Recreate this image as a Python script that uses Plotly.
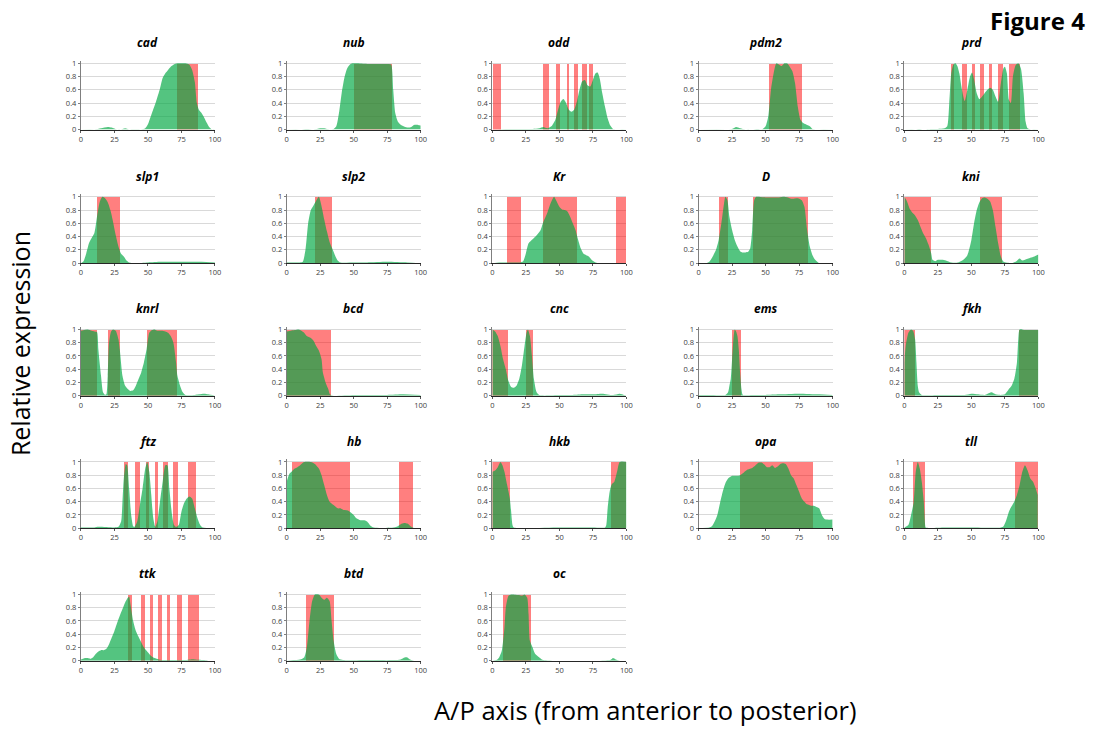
import plotly.graph_objects as go

W, H = 1097, 732

genes = ["cad", "nub", "odd", "pdm2", "prd",
         "slp1", "slp2", "Kr", "D", "kni",
         "knrl", "bcd", "cnc", "ems", "fkh",
         "ftz", "hb", "hkb", "opa", "tll",
         "ttk", "btd", "oc"]

x_ticks = [0, 25, 50, 75, 100]
y_ticks = [0, 0.2, 0.4, 0.6, 0.8, 1]
y_tick_labels = ["0", "0.2", "0.4", "0.6", "0.8", "1"]

# ---- expression curves (A/P position, relative expression) and ON domains ----
cad_x = [0, 10, 15, 20, 23, 27, 30, 33, 36, 45, 48, 50, 53, 56, 59, 61, 63, 65, 67, 69, 72, 75, 78, 81, 83, 85, 86.5, 88, 90, 92, 94, 96, 98, 100]
cad_y = [0, 0, 0.02, 0.04, 0.03, 0, 0, 0.02, 0, 0, 0.02, 0.08, 0.25, 0.42, 0.62, 0.78, 0.85, 0.9, 0.95, 0.98, 1, 1, 1, 0.98, 0.9, 0.72, 0.4, 0.3, 0.25, 0.18, 0.1, 0.03, 0, 0]
cad_on = [(72, 87)]

nub_x = [0, 10, 15, 20, 25, 28, 32, 35, 37, 39, 41, 43, 45, 47, 49, 52, 60, 70, 76, 78, 79.5, 81, 83, 86, 90, 93, 95, 98, 100]
nub_y = [0, 0, 0.01, 0, 0.02, 0.02, 0, 0.01, 0.05, 0.25, 0.55, 0.78, 0.92, 0.98, 1, 1, 0.99, 0.99, 0.99, 0.98, 0.6, 0.25, 0.12, 0.06, 0.03, 0.04, 0.07, 0.07, 0.06]
nub_on = [(50, 78.4)]

odd_x = [0, 10, 20, 30, 35, 38, 41, 44, 47, 49, 51, 53, 55, 57, 59, 61, 63, 65, 67, 69, 71, 73, 75, 77, 78.5, 80, 82, 84, 86, 88, 90, 95, 100]
odd_y = [0, 0.01, 0.01, 0.01, 0.02, 0.04, 0.02, 0.05, 0.15, 0.3, 0.42, 0.46, 0.4, 0.3, 0.27, 0.3, 0.42, 0.6, 0.73, 0.75, 0.67, 0.65, 0.75, 0.85, 0.86, 0.78, 0.55, 0.35, 0.17, 0.06, 0.01, 0, 0]
odd_on = [(1, 7), (38.4, 42.7), (47.4, 50.7), (55.6, 57.8), (61.4, 63.8), (67.4, 70.7), (72.6, 75.6)]

pdm2_x = [0, 20, 25, 28, 31, 35, 40, 44, 47, 50, 52, 54, 56, 58, 60, 62, 64, 66, 68, 70, 72, 74, 76, 78, 80, 83, 85, 90, 100]
pdm2_y = [0, 0, 0.01, 0.04, 0.02, 0, 0, 0.01, 0, 0.05, 0.2, 0.6, 0.85, 1, 0.98, 0.96, 1, 1, 0.95, 0.88, 0.7, 0.35, 0.15, 0.1, 0.08, 0.05, 0.01, 0, 0]
pdm2_on = [(52.2, 76.6)]

prd_x = [0, 8, 11, 14, 20, 25, 30, 32, 33.5, 35, 36.5, 38, 39.5, 41, 43, 45, 47, 49, 50.5, 52, 54, 56, 58, 61, 64, 66, 68, 70, 72, 74, 75, 76.5, 78, 79.5, 81, 83, 85, 87, 89, 90.5, 92, 95, 100]
prd_y = [0, 0, 0.01, 0, 0.01, 0.01, 0.02, 0.05, 0.4, 0.85, 0.98, 1, 0.96, 0.85, 0.6, 0.43, 0.6, 0.8, 0.86, 0.76, 0.55, 0.46, 0.5, 0.58, 0.63, 0.6, 0.5, 0.42, 0.7, 0.93, 0.95, 0.85, 0.45, 0.4, 0.8, 0.97, 1, 0.92, 0.55, 0.12, 0.02, 0, 0]
prd_on = [(34.9, 37.3), (43.5, 46.7), (50.4, 52.8), (56.5, 59.5), (63.1, 65.4), (70.5, 74.2), (78.4, 86.5)]

slp1_x = [0, 2, 4, 6, 8, 10, 12, 14, 16, 18, 20, 22, 24, 26, 28, 30, 32, 34, 36, 40, 50, 60, 75, 90, 100]
slp1_y = [0, 0.03, 0.15, 0.3, 0.38, 0.45, 0.7, 0.92, 1, 0.98, 0.92, 0.8, 0.62, 0.42, 0.25, 0.14, 0.1, 0.04, 0.01, 0, 0.01, 0.02, 0.02, 0.02, 0.01]
slp1_on = [(11.8, 28.8)]

slp2_x = [0, 5, 10, 12, 14, 16, 18, 20, 22, 24, 26, 28, 30, 32, 34, 36, 38, 40, 50, 60, 75, 90, 100]
slp2_y = [0.01, 0.01, 0.01, 0.02, 0.2, 0.6, 0.8, 0.87, 0.94, 1, 0.86, 0.66, 0.48, 0.32, 0.22, 0.12, 0.04, 0.01, 0.01, 0.01, 0.02, 0.01, 0]
slp2_on = [(20.8, 33.7)]

Kr_x = [0, 5, 10, 20, 23, 25, 27, 30, 33, 36, 38, 41, 43, 45, 46, 48, 50, 52, 54, 56, 58, 60, 62, 64, 66, 68, 70, 72, 74, 77, 80, 90, 100]
Kr_y = [0, 0.01, 0.01, 0.01, 0.03, 0.15, 0.3, 0.36, 0.42, 0.5, 0.62, 0.76, 0.88, 0.97, 1, 0.93, 0.85, 0.81, 0.8, 0.78, 0.7, 0.6, 0.5, 0.35, 0.22, 0.14, 0.12, 0.1, 0.05, 0.01, 0, 0, 0]
Kr_on = [(11, 21.9), (37.8, 63.3), (92.6, 100)]

D_x = [0, 6, 8, 10, 13, 15, 17, 19, 20, 21.5, 23, 25, 27, 29, 31, 33, 35, 37, 38.5, 40, 41.5, 43, 50, 60, 64, 68, 70, 74, 77, 79, 81, 83, 85, 87, 90, 100]
D_y = [0, 0, 0.02, 0.08, 0.2, 0.35, 0.6, 0.9, 1, 0.95, 0.7, 0.5, 0.35, 0.25, 0.18, 0.16, 0.16, 0.17, 0.22, 0.5, 0.95, 1, 0.99, 0.99, 1, 0.98, 0.97, 0.98, 0.95, 0.85, 0.5, 0.25, 0.12, 0.05, 0, 0]
D_on = [(14.9, 21.6), (40.4, 81.1)]

kni_x = [0, 2, 4, 6, 8, 10, 12, 14, 16, 18, 20, 21, 23, 25, 28, 31, 35, 40, 44, 47, 50, 52, 54, 56, 58, 60, 62, 64, 66, 68, 70, 72, 74, 80, 83, 86, 88, 90, 94, 97, 100]
kni_y = [1, 0.93, 0.82, 0.76, 0.72, 0.65, 0.55, 0.45, 0.38, 0.28, 0.15, 0.05, 0.03, 0.05, 0.05, 0.04, 0.01, 0.01, 0.05, 0.12, 0.35, 0.6, 0.8, 0.92, 0.98, 0.99, 0.97, 0.93, 0.8, 0.55, 0.3, 0.1, 0.02, 0, 0.02, 0.07, 0.04, 0.05, 0.08, 0.1, 0.13]
kni_on = [(0, 20.2), (56.9, 72.8)]

knrl_x = [0, 5, 8, 10, 12, 13, 15, 16.5, 18, 19, 20, 21, 22.5, 24, 26, 28, 29, 31, 33, 35, 37, 39, 41, 43, 45, 47, 49, 51, 53, 55, 57, 60, 63, 65, 67, 69, 71, 72, 74, 76, 78, 85, 88, 92, 95, 100]
knrl_y = [0.98, 1, 0.98, 0.97, 0.96, 0.7, 0.3, 0.05, 0.01, 0.02, 0.3, 0.8, 0.97, 1, 0.98, 0.85, 0.7, 0.3, 0.15, 0.1, 0.07, 0.08, 0.15, 0.25, 0.35, 0.5, 0.7, 0.95, 0.99, 1, 0.98, 0.98, 0.97, 0.95, 0.9, 0.8, 0.5, 0.3, 0.15, 0.05, 0.01, 0.01, 0.02, 0.03, 0.02, 0]
knrl_on = [(0, 11.8), (20, 28.8), (49.3, 71.5)]

bcd_x = [0, 3, 6, 9, 11, 13, 15, 18, 20, 22, 24, 26, 27, 29, 31, 32, 33, 35, 50, 60, 75, 87, 100]
bcd_y = [0.97, 0.98, 0.99, 1, 0.98, 0.95, 0.9, 0.87, 0.83, 0.75, 0.68, 0.55, 0.35, 0.2, 0.1, 0.03, 0.01, 0, 0.01, 0.01, 0.01, 0.02, 0.01]
bcd_on = [(0, 33.2)]

cnc_x = [0, 2, 4, 6, 8, 10, 12, 14, 16, 18, 20, 22, 24, 25.5, 26.5, 28, 29.5, 31, 33, 35, 50, 60, 68, 75, 82, 90, 95, 100]
cnc_y = [1, 0.97, 0.9, 0.75, 0.55, 0.4, 0.22, 0.13, 0.12, 0.15, 0.25, 0.45, 0.75, 0.95, 1, 0.9, 0.6, 0.25, 0.05, 0.01, 0.01, 0.01, 0.02, 0.02, 0.03, 0.01, 0.03, 0]
cnc_on = [(0, 12.3), (25.5, 30.4)]

ems_x = [0, 10, 20, 22, 23, 24, 25, 26, 27, 28, 29, 30, 31, 32, 33, 40, 50, 60, 75, 90, 100]
ems_y = [0.01, 0.01, 0.01, 0.05, 0.15, 0.25, 0.55, 0.85, 1, 0.97, 0.9, 0.7, 0.35, 0.1, 0.01, 0.01, 0.01, 0.02, 0.03, 0.02, 0.01]
ems_on = [(24.3, 31.5)]

fkh_x = [0, 1, 3, 5, 6.5, 8, 9, 10, 11, 13, 25, 40, 45, 50, 55, 60, 65, 68, 72, 75, 78, 80, 82, 84, 85, 86, 90, 95, 100]
fkh_y = [0.5, 0.75, 0.95, 1, 0.98, 0.85, 0.5, 0.15, 0.05, 0.01, 0.01, 0.01, 0.01, 0.03, 0.02, 0.01, 0.05, 0.02, 0.01, 0.02, 0.1, 0.15, 0.25, 0.5, 0.85, 1, 0.99, 0.99, 0.99]
fkh_on = [(0, 8), (85.8, 100)]

ftz_x = [0, 10, 13, 25, 28, 30, 31, 32, 33.5, 34.5, 36, 37.5, 39, 40, 42, 44, 46, 48, 49.5, 51, 52.5, 54, 55.5, 57, 59, 61, 63, 64.5, 66, 68, 69.5, 71, 73, 75, 77, 79, 81, 83, 85, 87, 89, 91, 100]
ftz_y = [0.01, 0.01, 0.02, 0.01, 0.02, 0.1, 0.4, 0.75, 0.97, 0.95, 0.6, 0.2, 0.03, 0.02, 0.1, 0.35, 0.6, 0.9, 1, 0.85, 0.5, 0.15, 0.02, 0.1, 0.4, 0.7, 0.95, 0.95, 0.6, 0.2, 0.05, 0.02, 0.05, 0.25, 0.38, 0.45, 0.48, 0.45, 0.3, 0.15, 0.05, 0.01, 0]
ftz_on = [(32.3, 35.1), (40.5, 43.8), (48.2, 50.7), (55.3, 57.5), (61.4, 64.7), (69, 72.3), (79.5, 85.8)]

hb_x = [0, 2, 4, 6, 8, 10, 13, 18, 21, 24, 26, 28, 30, 32, 35, 38, 40, 42, 45, 47, 50, 52, 55, 58, 60, 62, 65, 80, 83, 86, 88, 90, 93, 95, 100]
hb_y = [0.7, 0.82, 0.86, 0.9, 0.92, 0.95, 1, 1, 0.97, 0.9, 0.8, 0.65, 0.5, 0.4, 0.35, 0.3, 0.3, 0.28, 0.27, 0.25, 0.2, 0.15, 0.12, 0.12, 0.1, 0.05, 0.01, 0.01, 0.03, 0.07, 0.08, 0.07, 0.02, 0, 0]
hb_on = [(4.1, 46.8), (83.6, 94)]

hkb_x = [0, 2, 4, 6, 7.5, 9, 11, 13, 14, 15, 16, 50, 75, 84, 85, 86, 87.5, 89, 91, 93, 95, 100]
hkb_y = [0.85, 0.87, 0.92, 1, 0.95, 0.85, 0.65, 0.45, 0.25, 0.05, 0.01, 0.01, 0.01, 0.01, 0.05, 0.3, 0.55, 0.66, 0.7, 0.85, 1, 1]
hkb_on = [(0, 13.7), (89, 100)]

opa_x = [0, 8, 10, 12, 14, 16, 18, 20, 22, 25, 28, 31, 33, 36, 39, 42, 45, 47, 49, 51, 53, 55, 57, 59, 61, 63, 65, 67, 69, 71, 73, 75, 77, 79, 81, 84, 86, 88, 90, 92, 94, 96, 100]
opa_y = [0, 0.01, 0.03, 0.1, 0.2, 0.38, 0.55, 0.68, 0.75, 0.79, 0.79, 0.8, 0.83, 0.88, 0.9, 0.94, 0.99, 0.99, 0.96, 0.92, 0.92, 0.95, 0.91, 0.93, 0.97, 0.98, 0.97, 0.9, 0.8, 0.75, 0.65, 0.55, 0.45, 0.4, 0.36, 0.34, 0.34, 0.32, 0.3, 0.2, 0.14, 0.13, 0.13]
opa_on = [(30.9, 85.2)]

tll_x = [0, 3, 5, 7, 8.5, 10, 11.5, 13, 14.5, 15.5, 16, 30, 50, 72, 74, 76, 78, 80, 82, 84, 86, 88, 90, 92, 94, 96, 98, 99.5]
tll_y = [0.01, 0.05, 0.2, 0.4, 0.85, 1, 0.9, 0.7, 0.4, 0.05, 0.01, 0.01, 0.01, 0.01, 0.03, 0.12, 0.25, 0.33, 0.4, 0.5, 0.65, 0.85, 0.95, 0.87, 0.75, 0.7, 0.6, 0.5]
tll_on = [(6.9, 15.3), (82.8, 100)]

ttk_x = [0, 3, 5, 7, 9, 11, 13, 15, 17, 19, 21, 23, 25, 27, 29, 31, 33, 35, 36, 37, 39, 41, 43, 45, 47, 49, 52, 55, 58, 62, 70, 78, 82, 85, 88, 92, 95, 100]
ttk_y = [0.02, 0.04, 0.04, 0.03, 0.05, 0.1, 0.14, 0.16, 0.16, 0.18, 0.25, 0.35, 0.45, 0.57, 0.68, 0.78, 0.88, 0.95, 0.97, 0.85, 0.6, 0.45, 0.36, 0.28, 0.2, 0.15, 0.08, 0.04, 0.02, 0.01, 0.01, 0.01, 0.02, 0.02, 0.015, 0.01, 0, 0]
ttk_on = [(35, 37.8), (44.4, 47.4), (51.5, 53.7), (57.5, 60.5), (64.4, 66.6), (71.8, 75.6), (79.5, 88)]

btd_x = [0, 5, 10, 13, 15, 17, 19, 21, 24, 26, 28, 30, 32, 33.5, 35, 37, 39, 42, 60, 80, 85, 88, 90, 92, 95, 100]
btd_y = [0, 0.01, 0.02, 0.05, 0.2, 0.6, 0.9, 1, 1, 0.95, 0.92, 0.95, 0.9, 0.6, 0.3, 0.1, 0.03, 0.01, 0.01, 0.01, 0.02, 0.05, 0.05, 0.02, 0, 0]
btd_on = [(14.5, 35.3)]

oc_x = [0, 3, 5, 7, 9, 10, 12, 14, 20, 22, 24, 26, 27, 28, 30, 32, 35, 38, 60, 88, 90, 92, 95, 100]
oc_y = [0, 0.01, 0.05, 0.15, 0.5, 0.8, 0.98, 1, 0.99, 0.98, 1, 0.95, 0.7, 0.3, 0.2, 0.1, 0.05, 0.01, 0, 0.01, 0.04, 0.02, 0, 0]
oc_on = [(8.2, 28.8)]

curves = {g: (globals()[g + "_x"], globals()[g + "_y"], globals()[g + "_on"]) for g in genes}

# ---- layout geometry (pixels) ----
col_left = [79.5, 286.8, 494.0, 701.7, 909.0]
col_width = 135.0
row_zero = [128.0, 263.0, 397.0, 531.0, 665.0]
unit_px = 67.0
y_max = 1.04

GREEN = "rgba(0,167,66,0.67)"
RED = "rgba(255,0,0,0.5)"

fig = go.Figure()
annotations = []
layout_axes = {}

for i, g in enumerate(genes):
    r, c = divmod(i, 5)
    k = i + 1
    xs, ys, on = curves[g]
    xname = "x" if k == 1 else f"x{k}"
    yname = "y" if k == 1 else f"y{k}"
    x0 = col_left[c]
    x1 = x0 + col_width
    yb = row_zero[r]
    yt = yb - unit_px * y_max
    layout_axes["xaxis" if k == 1 else f"xaxis{k}"] = dict(
        domain=[x0 / W, x1 / W], anchor=yname, range=[0, 100],
        tickvals=x_ticks, ticktext=[str(t) for t in x_ticks],
        showgrid=False, zeroline=False, showline=True, linecolor="#262626", linewidth=1.3,
        ticks="outside", ticklen=2, tickcolor="#595959",
        tickfont=dict(size=7.5, color="#404040", family="Open Sans"),
        fixedrange=True,
    )
    layout_axes["yaxis" if k == 1 else f"yaxis{k}"] = dict(
        domain=[1 - yb / H, 1 - yt / H], anchor=xname, range=[0, y_max],
        tickvals=y_ticks, ticktext=y_tick_labels,
        showgrid=True, gridcolor="#d9d9d9", gridwidth=1, zeroline=False,
        showline=True, linecolor="#7f7f7f", linewidth=1,
        ticks="outside", ticklen=2, tickcolor="#7f7f7f",
        tickfont=dict(size=7.5, color="#404040", family="Open Sans"),
        fixedrange=True,
    )
    # ON domains as bars
    fig.add_trace(go.Bar(
        x=[(a + b) / 2 for a, b in on], y=[1] * len(on), width=[b - a for a, b in on], base=0,
        marker=dict(color=RED, line=dict(width=0)),
        xaxis=xname, yaxis=yname, showlegend=False, hoverinfo="skip",
    ))
    # expression profile
    fig.add_trace(go.Scatter(
        x=xs, y=ys, mode="lines", fill="tozeroy", fillcolor=GREEN,
        line=dict(width=0, shape="spline", smoothing=0.6, color=GREEN),
        xaxis=xname, yaxis=yname, showlegend=False, hoverinfo="skip",
    ))
    annotations.append(dict(
        text=f"<b><i>{g}</i></b>", x=(x0 + col_width / 2) / W, y=1 - (yb - unit_px - 21) / H,
        xref="paper", yref="paper", showarrow=False, xanchor="center", yanchor="middle",
        font=dict(size=12, color="#000000", family="Open Sans"),
    ))

annotations.append(dict(
    text="<b>Figure 4</b>", x=1093 / W, y=1 - 18 / H, xref="paper", yref="paper",
    showarrow=False, xanchor="right", yanchor="middle",
    font=dict(size=24, color="#000000", family="Open Sans"),
))
annotations.append(dict(
    text="Relative expression", x=18 / W, y=1 - 344 / H, xref="paper", yref="paper",
    showarrow=False, xanchor="center", yanchor="middle", textangle=-90,
    font=dict(size=25, color="#000000", family="Open Sans"),
))
annotations.append(dict(
    text="A/P axis (from anterior to posterior)", x=648 / W, y=1 - 715 / H, xref="paper", yref="paper",
    showarrow=False, xanchor="center", yanchor="middle",
    font=dict(size=25.5, color="#000000", family="Open Sans"),
))

fig.update_layout(
    width=W, height=H, margin=dict(l=0, r=0, t=0, b=0),
    paper_bgcolor="white", plot_bgcolor="white",
    annotations=annotations, barmode="overlay", bargap=0,
    **layout_axes,
)

fig.write_html("out.html")
